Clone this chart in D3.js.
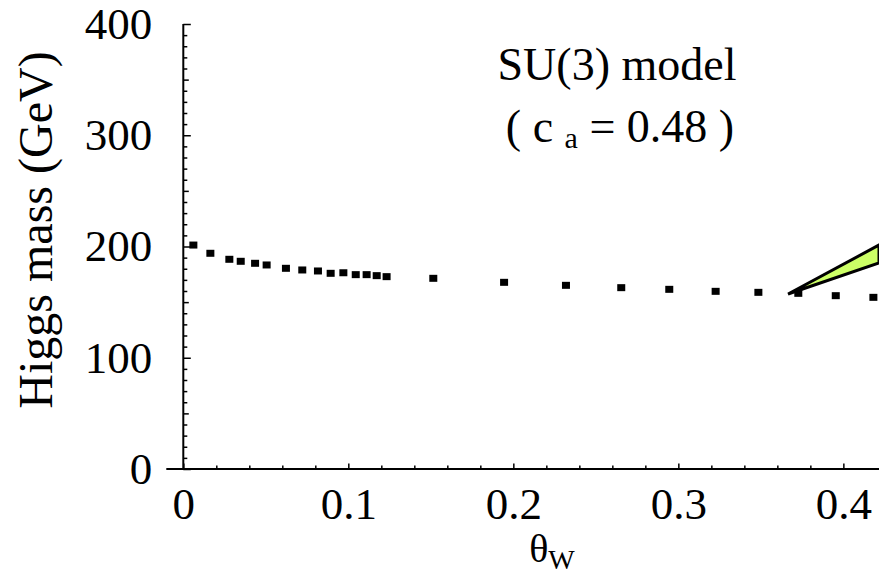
<!DOCTYPE html>
<html>
<head>
<meta charset="UTF-8">
</head>
<body style="margin:0; background:#fff">
<script src="https://d3js.org/d3.v7.min.js"></script>
<script>
// scan points (theta_W, Higgs mass in GeV)
const thetaW = [0.0061, 0.0164, 0.0279, 0.0348, 0.0435, 0.0505, 0.0622, 0.0721, 0.0816,
    0.0893, 0.0970, 0.1045, 0.1111, 0.1172, 0.1232, 0.1515, 0.1944, 0.2319, 0.2654,
    0.2945, 0.3226, 0.3485, 0.3727, 0.3954, 0.4182];
const higgsMass = [201.3, 193.9, 188.5, 186.7, 184.9, 183.4, 180.4, 178.9, 178.0,
    175.9, 176.4, 174.7, 174.7, 173.8, 172.9, 171.4, 167.8, 165.1, 163.0,
    161.5, 159.7, 158.8, 157.9, 155.8, 154.3];

// green wedge (apex, upper edge end, lower edge end)
const wedgeTheta = [0.3665, 0.4216, 0.4216];
const wedgeMass = [157.3, 201.3, 185.2];

const xTicks = [0, 0.1, 0.2, 0.3, 0.4];
const yTicks = [0, 100, 200, 300, 400];

const FONT = "Liberation Serif";
const width = 879, height = 577;
const x = d3.scaleLinear().domain([0, 0.4216]).range([183.3, 879]);
const y = d3.scaleLinear().domain([0, 400]).range([469, 24]);

const svg = d3.select("body").append("svg")
    .attr("width", width)
    .attr("height", height)
    .style("display", "block");

// minor / medium ticks
const yMinor = d3.range(0, 401, 10).filter(v => v % 50 !== 0);
const yMedium = [50, 150, 250, 350];
const xMinor = d3.range(0, 0.42, 0.02).filter(v => Math.abs(v * 10 - Math.round(v * 10)) > 1e-6);

function tickAxis(axis) {
    const g = svg.append("g").call(axis);
    g.attr("font-family", FONT).attr("font-size", 45);
    g.select(".domain").remove();
    g.selectAll("line").attr("stroke", "#000").attr("stroke-width", 1.5);
    g.selectAll("text").attr("fill", "#000").attr("font-family", FONT);
    return g;
}

tickAxis(d3.axisLeft(y).tickValues(yMinor).tickSize(-4).tickFormat(""))
    .attr("transform", `translate(${x(0)},0)`);
tickAxis(d3.axisLeft(y).tickValues(yMedium).tickSize(-5.5).tickFormat(""))
    .attr("transform", `translate(${x(0)},0)`);
tickAxis(d3.axisLeft(y).tickValues(yTicks).tickSize(-7.5).tickPadding(31).tickFormat(d3.format("d")))
    .attr("transform", `translate(${x(0)},0)`);

tickAxis(d3.axisBottom(x).tickValues(xMinor).tickSize(-3.5).tickFormat(""))
    .attr("transform", `translate(0,${y(0)})`);
tickAxis(d3.axisBottom(x).tickValues(xTicks).tickSize(-5.5).tickPadding(18).tickFormat(d => d === 0 ? "0" : d3.format(".1f")(d)))
    .attr("transform", `translate(0,${y(0)})`);

// axis lines
svg.append("line")
    .attr("x1", x(0) - 17).attr("x2", x.range()[1])
    .attr("y1", y(0)).attr("y2", y(0))
    .attr("stroke", "#000").attr("stroke-width", 2);
svg.append("line")
    .attr("x1", x(0)).attr("x2", x(0))
    .attr("y1", y(0)).attr("y2", y(400))
    .attr("stroke", "#000").attr("stroke-width", 2);

// wedge
const wedge = wedgeTheta.map((t, i) => [x(t), y(wedgeMass[i])]);
svg.append("path")
    .attr("d", d3.line()(wedge) + "Z")
    .attr("fill", "#ccff66")
    .attr("stroke", "#000")
    .attr("stroke-width", 3)
    .attr("stroke-linejoin", "miter");

// points
const pts = thetaW.map((t, i) => ({ t, m: higgsMass[i] }));
svg.selectAll(".pt")
    .data(pts)
    .enter()
    .append("rect")
    .attr("class", "pt")
    .attr("x", d => x(d.t) - 4)
    .attr("y", d => y(d.m) - 3.5)
    .attr("width", 8)
    .attr("height", 7)
    .attr("fill", "#000");

// annotation
svg.append("text")
    .attr("font-family", FONT)
    .attr("font-size", 46)
    .attr("x", 617).attr("y", 80)
    .attr("text-anchor", "middle")
    .text("SU(3) model");

const note = svg.append("text")
    .attr("font-family", FONT)
    .attr("font-size", 46)
    .attr("x", 620).attr("y", 142)
    .attr("text-anchor", "middle");
note.append("tspan").text("( c ");
note.append("tspan").attr("dy", 6).attr("font-size", 30).text("a");
note.append("tspan").attr("dy", -6).text(" = 0.48 )");

// axis titles
const xl = svg.append("text")
    .attr("font-family", FONT)
    .attr("font-size", 40)
    .attr("x", 552).attr("y", 562)
    .attr("text-anchor", "middle");
xl.append("tspan").text("θ");
xl.append("tspan").attr("dy", 7).attr("font-size", 28).text("W");

svg.append("text")
    .attr("font-family", FONT)
    .attr("font-size", 48)
    .attr("transform", "translate(52,230) rotate(-90)")
    .attr("text-anchor", "middle")
    .text("Higgs mass (GeV)");
</script>
</body>
</html>
